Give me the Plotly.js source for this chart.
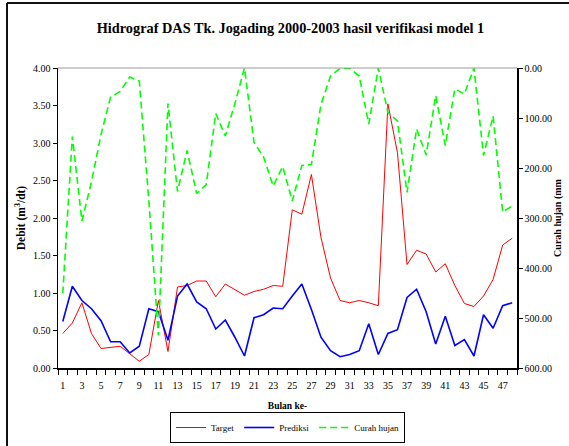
<!DOCTYPE html>
<html>
<head>
<meta charset="utf-8">
<script src="https://cdn.plot.ly/plotly-3.0.1.min.js"></script>
<style>
  html, body { margin: 0; padding: 0; background: #ffffff; }
  #chart { width: 569px; height: 446px; }
</style>
</head>
<body>
<div id="chart"></div>
<script>
// Month index (1..48)
const bulan = [1,2,3,4,5,6,7,8,9,10,11,12,13,14,15,16,17,18,19,20,21,22,23,24,
               25,26,27,28,29,30,31,32,33,34,35,36,37,38,39,40,41,42,43,44,45,46,47,48];

// Observed discharge (m3/dt)
const target = [0.46,0.60,0.87,0.46,0.26,0.27,0.29,0.19,0.09,0.18,
                0.90,0.22,1.08,1.10,1.16,1.16,0.95,1.12,1.05,0.97,
                1.02,1.05,1.10,1.09,2.11,2.05,2.58,1.74,1.20,0.90,
                0.87,0.90,0.87,0.83,3.52,2.87,1.38,1.57,1.52,1.28,
                1.39,1.10,0.86,0.82,0.96,1.18,1.64,1.73];

// Model prediction (m3/dt)
const prediksi = [0.62,1.09,0.90,0.79,0.63,0.35,0.35,0.20,0.29,0.79,
                  0.75,0.37,0.96,1.12,0.88,0.79,0.52,0.64,0.41,0.16,
                  0.67,0.71,0.80,0.79,0.96,1.12,0.78,0.41,0.23,0.15,
                  0.18,0.23,0.59,0.18,0.46,0.51,0.94,1.05,0.75,0.32,
                  0.69,0.30,0.38,0.16,0.71,0.53,0.83,0.87];

// Monthly rainfall (mm), plotted on the reversed right axis
const curahHujan = [451,137,306,228,133,58,47,18,26,265,
                    535,71,247,165,251,233,91,136,71,0,
                    149,178,236,197,266,195,193,73,16,1,
                    1,16,112,0,89,106,249,122,174,55,
                    155,42,52,0,175,96,288,276];

// Axis tick labels
const xTickVals = [1,3,5,7,9,11,13,15,17,19,21,23,25,27,29,31,33,35,37,39,41,43,45,47];
const yLeftTicks = [0,0.5,1,1.5,2,2.5,3,3.5,4];
const yRightTicks = [0,100,200,300,400,500,600];

const FONT = "'Liberation Serif', 'Times New Roman', Times, serif";

const traces = [
  { x: bulan, y: target, name: 'Target', type: 'scatter', mode: 'lines',
    line: { color: '#FF0000', width: 1 }, yaxis: 'y' },
  { x: bulan, y: prediksi, name: 'Prediksi', type: 'scatter', mode: 'lines',
    line: { color: '#0000FF', width: 1.6 }, yaxis: 'y' },
  { x: bulan, y: curahHujan, name: 'Curah hujan', type: 'scatter', mode: 'lines',
    line: { color: '#00FF00', width: 1.6, dash: '7px,4px' }, yaxis: 'y2' }
];

// plot area spans x 58..517, y 68..368 (pixels)
const L = 58, R = 52, T = 68, B = 78, W = 569, H = 446;
const pw = W - L - R, ph = H - T - B;
const px = v => (v - L) / pw;
const py = v => (H - B - v) / ph;

const layout = {
  width: W, height: H,
  margin: { l: L, r: R, t: T, b: B, pad: 0, autoexpand: false },
  paper_bgcolor: '#ffffff', plot_bgcolor: '#ffffff',
  font: { family: FONT, size: 10, color: '#000000' },
  showlegend: true,
  title: {
    text: '<b>Hidrograf DAS Tk. Jogading 2000-2003 hasil verifikasi model 1</b>',
    font: { family: FONT, size: 14.3, color: '#000000' },
    x: 290.5 / W, xref: 'container', xanchor: 'center',
    y: 1 - 28 / H, yref: 'container', yanchor: 'middle'
  },
  xaxis: {
    range: [0.5, 48.5], fixedrange: true,
    tickmode: 'array', tickvals: xTickVals, ticktext: xTickVals.map(String),
    ticks: 'outside', ticklen: 7, tickcolor: 'rgba(0,0,0,0)',
    minor: { tick0: 0.5, dtick: 1, ticks: 'outside', ticklen: 5, tickcolor: '#000000', tickwidth: 1, showgrid: false },
    showline: true, linecolor: '#000000', linewidth: 1.5,
    showgrid: false, zeroline: false,
    tickfont: { family: FONT, size: 10 },
    title: { text: '<b>Bulan ke-</b>', font: { family: FONT, size: 9.5 }, standoff: 13 },
    automargin: false
  },
  yaxis: {
    range: [0, 4], fixedrange: true,
    tickmode: 'array', tickvals: yLeftTicks, tickformat: '.2f',
    ticks: 'outside', ticklen: 4, tickcolor: '#000000',
    showline: true, linecolor: '#000000', linewidth: 1.5,
    showgrid: false, zeroline: false,
    tickfont: { family: FONT, size: 10 },
    title: { text: '<b>Debit (m<sup>3</sup>/dt)</b>', font: { family: FONT, size: 11.5 }, standoff: 5 },
    automargin: false
  },
  yaxis2: {
    overlaying: 'y', side: 'right', anchor: 'x',
    range: [600, 0], fixedrange: true,
    tickmode: 'array', tickvals: yRightTicks, tickformat: '.2f',
    ticks: 'outside', ticklen: 4, tickcolor: '#000000',
    showline: true, linecolor: '#000000', linewidth: 1.5,
    showgrid: false, zeroline: false,
    tickfont: { family: FONT, size: 10 },
    title: { text: '<b>Curah hujan (mm</b>', font: { family: FONT, size: 10 }, standoff: 2 },
    automargin: false
  },
  legend: {
    orientation: 'h', x: 0.5, xanchor: 'center', y: py(443), yanchor: 'bottom',
    bordercolor: '#000000', borderwidth: 1, bgcolor: '#ffffff',
    font: { family: FONT, size: 9 }, itemwidth: 30,
    traceorder: 'normal'
  },
  shapes: [
    // grey top edge of the plot area
    { type: 'line', xref: 'paper', yref: 'paper', x0: 0, x1: 1, y0: 1, y1: 1,
      line: { color: '#9a9a9a', width: 1 } },
    // chart frame (left and top edges)
    { type: 'line', xref: 'paper', yref: 'paper', x0: px(7), x1: px(7), y0: py(3), y1: py(H + 5),
      line: { color: '#111111', width: 2 } },
    { type: 'line', xref: 'paper', yref: 'paper', x0: px(7), x1: px(W + 5), y0: py(3), y1: py(3),
      line: { color: '#111111', width: 2 } }
  ]
};

Plotly.newPlot('chart', traces, layout, { staticPlot: true, displayModeBar: false });
</script>
</body>
</html>
